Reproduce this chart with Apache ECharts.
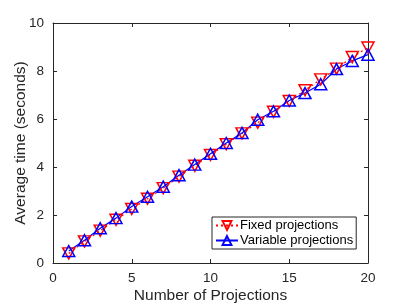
<!DOCTYPE html>
<html><head><meta charset="utf-8">
<script src="https://cdn.jsdelivr.net/npm/echarts@6/dist/echarts.min.js"></script>
<style>html,body{margin:0;padding:0;background:#fff}#c{width:407px;height:305px}</style>
</head><body><div id="c"></div>
<script>
const xValues = [1,2,3,4,5,6,7,8,9,10,11,12,13,14,15,16,17,18,19,20];
const fixedTimes = [0.40,0.90,1.35,1.80,2.25,2.68,3.12,3.60,4.05,4.50,4.95,5.40,5.85,6.30,6.75,7.20,7.65,8.10,8.58,8.98];
const variableTimes = [0.50,0.95,1.45,1.87,2.35,2.76,3.18,3.66,4.10,4.55,5.00,5.42,5.97,6.32,6.77,7.08,7.45,8.08,8.42,8.68];
const xTicks = [0,5,10,15,20];
const yTicks = [0,2,4,6,8,10];
const seriesNames = ['Fixed projections','Variable projections'];

const C = '#262626';
const font = 'Liberation Sans, Arial, sans-serif';
const chart = echarts.init(document.getElementById('c'));
const pair = (arr) => xValues.map((x,i)=>[x,arr[i]]);
const baseAxis = {
  axisLine:{show:true,onZero:false,lineStyle:{color:C,width:1}},
  axisTick:{show:true,inside:true,length:4,lineStyle:{color:C}},
  splitLine:{show:false}
};
chart.setOption({
  animation:false,
  backgroundColor:'#fff',
  grid:{left:53,right:39,top:23,bottom:42,containLabel:false,outerBoundsMode:'none'},
  xAxis:[
    Object.assign({type:'value',min:xTicks[0],max:xTicks[xTicks.length-1],interval:5,position:'bottom',
      name:'Number of Projections',nameLocation:'middle',nameGap:25,nameMoveOverlap:false,
      nameTextStyle:{color:C,fontSize:15.5,fontFamily:font},
      axisLabel:{color:C,fontSize:13.5,fontFamily:font,margin:8}},baseAxis),
    Object.assign({type:'value',min:0,max:20,interval:5,position:'top',axisLabel:{show:false}},baseAxis)
  ],
  yAxis:[
    Object.assign({type:'value',min:yTicks[0],max:yTicks[yTicks.length-1],interval:2,position:'left',
      name:'Average time (seconds)',nameLocation:'middle',nameGap:24,nameMoveOverlap:false,
      nameTextStyle:{color:C,fontSize:15.5,fontFamily:font},
      axisLabel:{color:C,fontSize:13.5,fontFamily:font,margin:9}},baseAxis),
    Object.assign({type:'value',min:0,max:10,interval:2,position:'right',axisLabel:{show:false}},baseAxis)
  ],
  legend:{
    orient:'vertical',left:212,top:217,
    backgroundColor:'#fff',borderColor:C,borderWidth:1,borderRadius:0,
    padding:[1,3,1,3],itemGap:0,itemWidth:22,itemHeight:11,
    textStyle:{color:'#000',fontSize:13,lineHeight:15,fontFamily:font,padding:[0,0,0,-3]},
    data:seriesNames
  },
  series:[
    {name:seriesNames[0],type:'line',data:pair(fixedTimes),
     symbol:'triangle',symbolRotate:180,symbolSize:[12,11],
     lineStyle:{color:'#ff0000',width:1.2,type:[2,3]},
     itemStyle:{color:'rgba(255,255,255,0)',borderColor:'#ff0000',borderWidth:1.5}},
    {name:seriesNames[1],type:'line',data:pair(variableTimes),
     symbol:'triangle',symbolSize:[12,11],
     lineStyle:{color:'#0000ff',width:1.2},
     itemStyle:{color:'rgba(255,255,255,0)',borderColor:'#0000ff',borderWidth:1.5}}
  ]
});
</script></body></html>
